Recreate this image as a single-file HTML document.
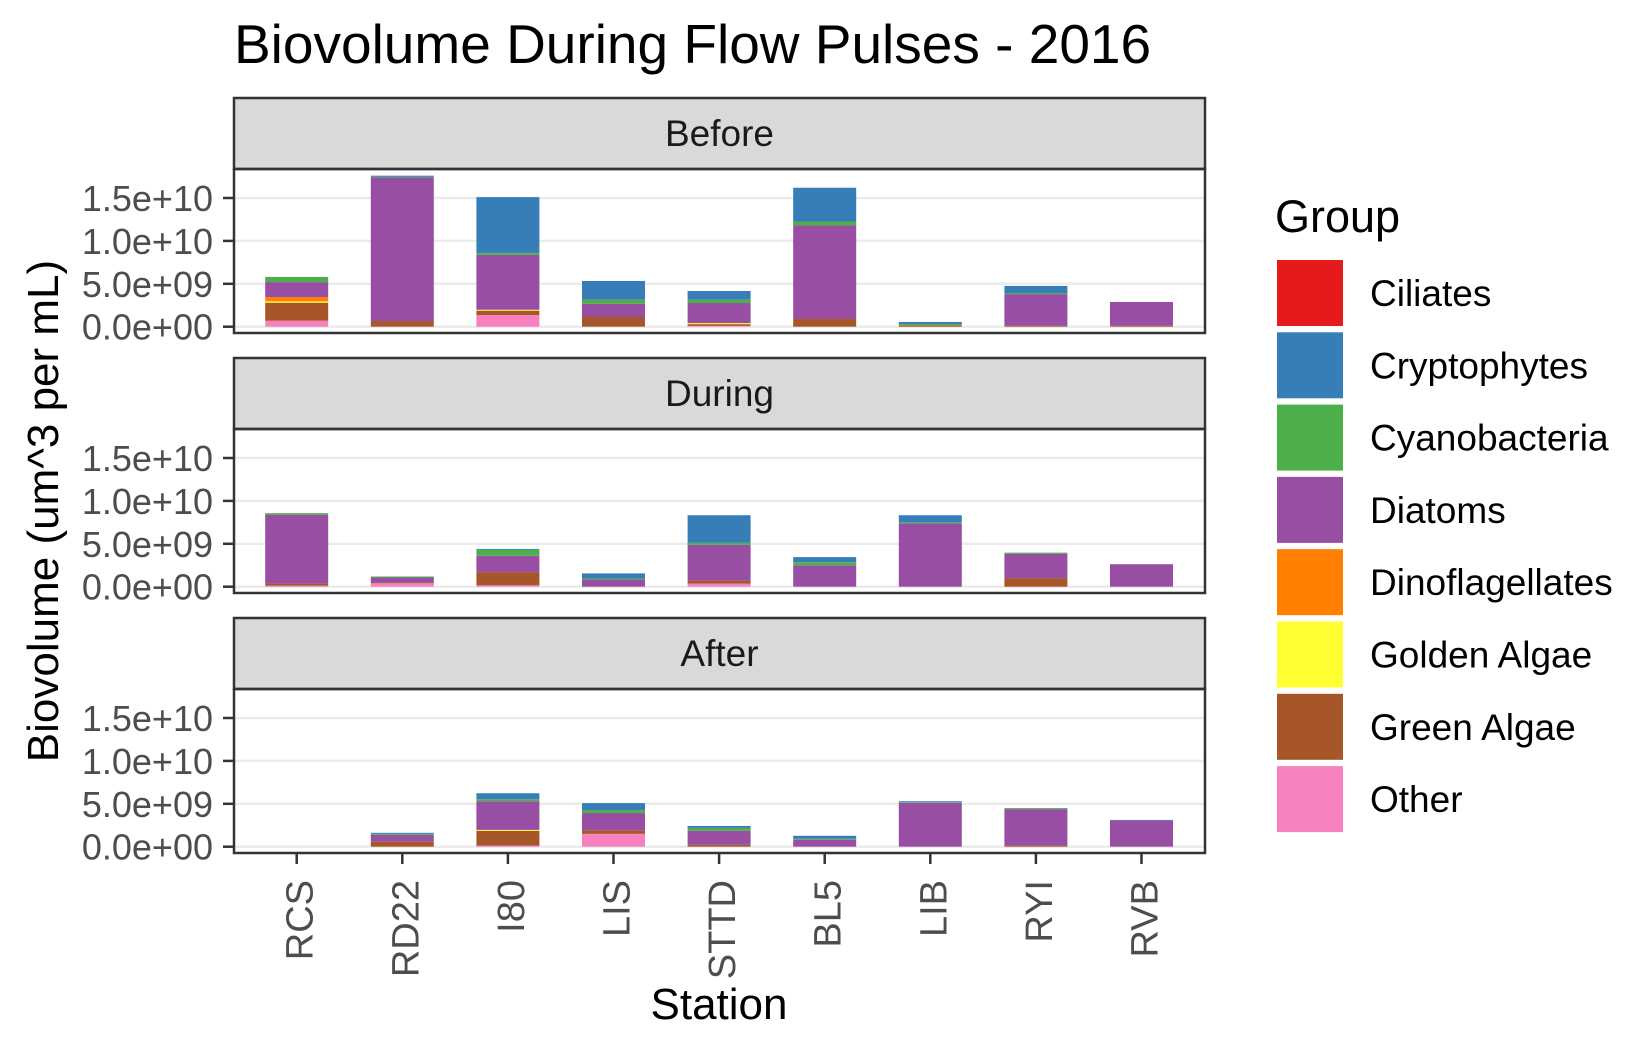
<!DOCTYPE html>
<html><head><meta charset="utf-8"><style>
html,body{margin:0;padding:0;background:#fff;}
svg{display:block;font-family:"Liberation Sans",Arial,sans-serif;}
</style></head><body>
<svg id="chart" width="1650" height="1050" viewBox="0 0 1650 1050" xmlns="http://www.w3.org/2000/svg">
<text x="234" y="63" font-size="55" fill="#000">Biovolume During Flow Pulses - 2016</text>
<text transform="translate(58,511) rotate(-90)" text-anchor="middle" font-size="44" fill="#000">Biovolume (um^3 per mL)</text>
<text x="719" y="1019" text-anchor="middle" font-size="44" fill="#000">Station</text>
<g id="panels"></g>
<g id="legend"></g>
</svg>
<script>
const stations = ["RCS","RD22","I80","LIS","STTD","BL5","LIB","RYI","RVB"];
const periods = ["Before","During","After"];
const groups = ["Ciliates","Cryptophytes","Cyanobacteria","Diatoms","Dinoflagellates","Golden Algae","Green Algae","Other"];
const colors = ["#E41A1C","#377EB8","#4DAF4A","#984EA3","#FF7F00","#FFFF33","#A65628","#F781BF"];
const yTicks = [0,5,10,15];
const yTickLabels = ["0.0e+00","5.0e+09","1.0e+10","1.5e+10"];
// values in units of 1e9 um^3/mL, per station, per period
const beforeOther   = [0.7,0,1.36,0,0.1,0,0,0,0];
const beforeGreen   = [2.1,0.66,0.51,1.13,0.2,0.9,0.16,0.12,0.12];
const beforeGolden  = [0.15,0,0.11,0,0.12,0,0,0,0];
const beforeDino    = [0.5,0,0,0,0,0,0,0,0];
const beforeDiatoms = [1.75,16.74,6.39,1.55,2.34,10.9,0,3.68,2.76];
const beforeCyano   = [0.6,0.07,0.23,0.47,0.39,0.46,0.14,0.13,0];
const beforeCrypto  = [0,0.13,6.5,2.18,1.01,3.94,0.25,0.82,0];
const beforeCiliates= [0,0,0,0,0,0,0,0,0];
const duringOther   = [0.12,0.4,0.16,0,0.36,0,0,0,0];
const duringGreen   = [0.24,0.08,1.54,0,0.35,0,0,1.0,0];
const duringGolden  = [0,0,0,0,0,0,0,0,0];
const duringDino    = [0,0,0,0,0,0,0,0,0];
const duringDiatoms = [8.04,0.59,1.9,0.83,4.17,2.5,7.38,2.85,2.62];
const duringCyano   = [0.17,0.12,0.69,0.12,0.24,0.36,0.12,0.12,0];
const duringCrypto  = [0,0,0.11,0.6,3.21,0.59,0.83,0,0];
const duringCiliates= [0,0,0,0,0,0,0,0,0];
const afterOther    = [0,0,0.12,1.5,0,0,0,0,0];
const afterGreen    = [0,0.58,1.73,0.42,0.23,0,0,0.12,0];
const afterGolden   = [0,0,0.11,0,0,0,0,0,0];
const afterDino     = [0,0,0,0,0,0,0,0,0];
const afterDiatoms  = [0,0.8,3.34,2.0,1.62,0.81,5.12,4.26,3.04];
const afterCyano    = [0,0.12,0.24,0.35,0.34,0.11,0.07,0.12,0];
const afterCrypto   = [0,0.12,0.69,0.81,0.23,0.35,0.11,0,0.08];
const afterCiliates = [0,0,0,0,0,0,0,0,0];

const series = {
  Before:[beforeCiliates,beforeCrypto,beforeCyano,beforeDiatoms,beforeDino,beforeGolden,beforeGreen,beforeOther],
  During:[duringCiliates,duringCrypto,duringCyano,duringDiatoms,duringDino,duringGolden,duringGreen,duringOther],
  After:[afterCiliates,afterCrypto,afterCyano,afterDiatoms,afterDino,afterGolden,afterGreen,afterOther]
};

const NS="http://www.w3.org/2000/svg";
function mk(tag, attrs, parent){const e=document.createElementNS(NS,tag);for(const k in attrs)e.setAttribute(k,attrs[k]);parent.appendChild(e);return e;}
const root=document.getElementById('panels');
const PL=234, PR=1205, pitch=260, pxPer=8.58;
const xStart=296.7, xStep=105.6, barW=63;
function xScale(i){return xStart+i*xStep;}

periods.forEach((p,pi)=>{
  const top=98+pi*pitch, stripB=top+71, plotB=stripB+164, zero=stripB+157.7;
  function yScale(v){return zero - v*pxPer;}
  const g=mk('g',{},root);
  
  
  const strip=mk('rect',{x:PL,y:top,width:PR-PL,height:71,fill:'#d9d9d9',stroke:'#333',"stroke-width":2.5},g);
  
  
  const st=mk('text',{x:(PL+PR)/2,y:top+48,"text-anchor":"middle","font-size":37,fill:"#1a1a1a"},g);
  st.textContent=p;
  
  
  yTicks.forEach((t,ti)=>{
    const y=yScale(t);
    const gl=mk('line',{x1:PL,x2:PR,y1:y,y2:y,stroke:'#ebebeb',"stroke-width":2.5},g);
    
    
    const tk=mk('line',{x1:PL-11,x2:PL,y1:y,y2:y,stroke:'#333',"stroke-width":2.5},g);
    
    
    const tl=mk('text',{x:PL-21,y:y+13,"text-anchor":"end","font-size":36,fill:"#4d4d4d"},g);
    tl.textContent=yTickLabels[ti];
    
    
  });
  const arr=series[p];
  stations.forEach((s,si)=>{
    let cum=0;
    for(let gi=groups.length-1;gi>=0;gi--){
      const v=arr[gi][si];
      if(v<=0)continue;
      const y1=yScale(cum), y2=yScale(cum+v);
      const r=mk('rect',{x:xScale(si)-barW/2,y:y2,width:barW,height:y1-y2,fill:colors[gi]},g);
      
      
      cum+=v;
    }
  });
  const fr=mk('rect',{x:PL,y:stripB,width:PR-PL,height:plotB-stripB,fill:'none',stroke:'#333',"stroke-width":2.5},g);
  
  
  if(pi===2){
    stations.forEach((s,si)=>{
      const x=xScale(si);
      const t=mk('line',{x1:x,x2:x,y1:plotB,y2:plotB+11,stroke:'#333',"stroke-width":2.5},g);
      
      
      const l=mk('text',{transform:`translate(${x+16},880) rotate(-90)`,"text-anchor":"end","font-size":38,fill:"#4d4d4d"},g);
      l.textContent=s;
      
      
    });
  }
});

const lg=document.getElementById('legend');
const lt=mk('text',{x:1275,y:232,"font-size":45,fill:"#000"},lg);
lt.textContent="Group";


groups.forEach((gname,i)=>{
  const y=260+i*72.3;
  const sw=mk('rect',{x:1277,y:y,width:66,height:66,fill:colors[i]},lg);
  
  
  const t=mk('text',{x:1370,y:y+46,"font-size":37,fill:"#000"},lg);
  t.textContent=gname;
  
  
});
</script>
</body></html>
